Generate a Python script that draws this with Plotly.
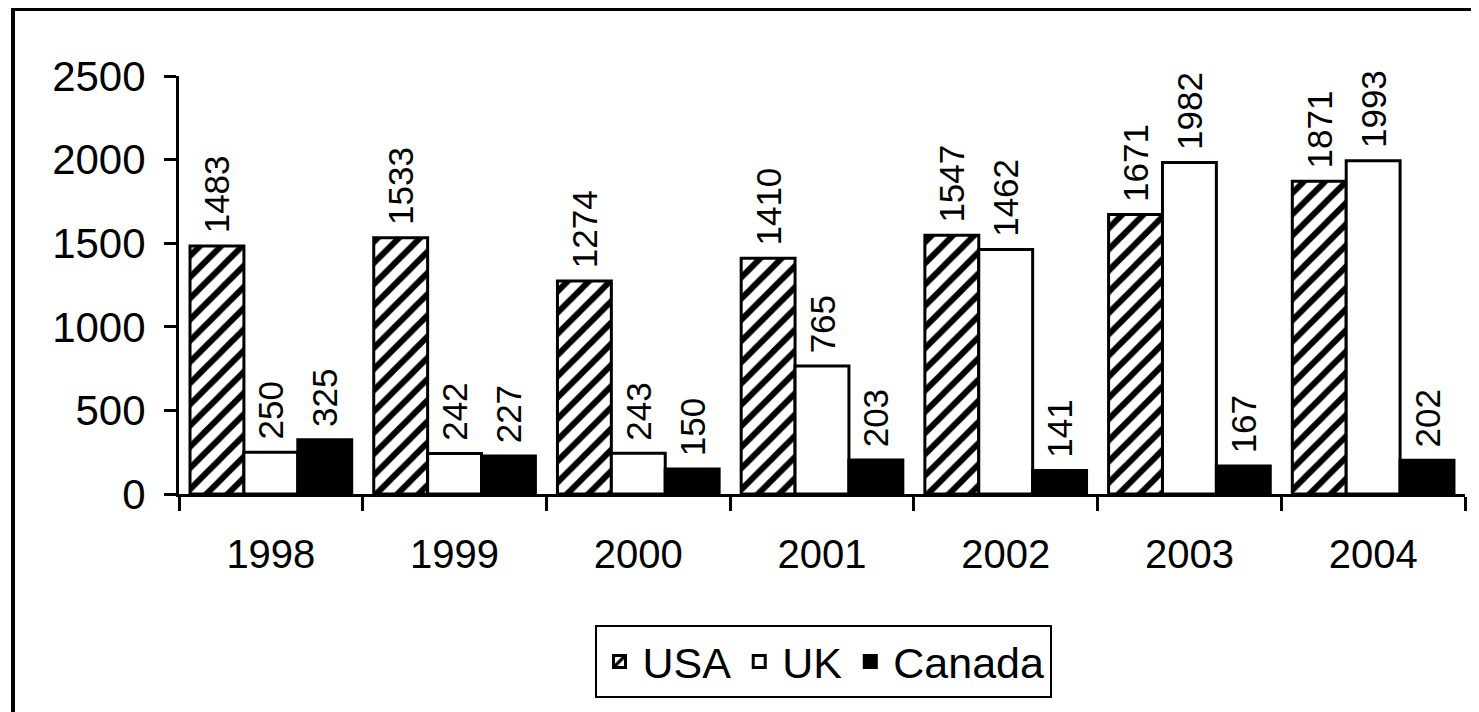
import plotly.graph_objects as go

years = ["1998", "1999", "2000", "2001", "2002", "2003", "2004"]
usa = [1483, 1533, 1274, 1410, 1547, 1671, 1871]
uk = [250, 242, 243, 765, 1462, 1982, 1993]
canada = [325, 227, 150, 203, 141, 167, 202]
y_ticks = [0, 500, 1000, 1500, 2000, 2500]

W, H = 1479, 712
OFF = 8  # page body margin offset
L, T = 179 - OFF, 76 - OFF
R = W - (1465 - OFF)
B = H - (494 - OFF)
pw, ph = W - L - R, H - T - B

FONT = "Liberation Sans"

def px_x(px):
    return (px - OFF - L) / pw

def px_y(py):
    return (H - B - (py - OFF)) / ph

fig = go.Figure()
common = dict(
    textposition="outside", textangle=-90, texttemplate="\u00a0%{y}",
    textfont=dict(family=FONT, size=35, color="black"),
    constraintext="none", cliponaxis=False,
)
fig.add_trace(go.Bar(
    name="USA", x=years, y=usa,
    marker=dict(color="white", line=dict(color="black", width=3),
                pattern=dict(shape="/", fgcolor="black", bgcolor="white",
                             size=15, solidity=0.4, fillmode="replace")),
    **common))
fig.add_trace(go.Bar(
    name="UK", x=years, y=uk,
    marker=dict(color="white", line=dict(color="black", width=3)),
    **common))
fig.add_trace(go.Bar(
    name="Canada", x=years, y=canada,
    marker=dict(color="black", line=dict(color="black", width=3)),
    **common))

fig.update_layout(
    width=W, height=H,
    margin=dict(l=L, r=R, t=T, b=B, pad=0),
    paper_bgcolor="white", plot_bgcolor="white",
    barmode="group", bargap=0.12, bargroupgap=0,
    font=dict(family=FONT, size=40, color="black"),
    showlegend=True,
    legend=dict(
        orientation="h", x=px_x(823), xanchor="center", y=px_y(625), yanchor="top",
        bordercolor="black", borderwidth=2, bgcolor="white",
        font=dict(family=FONT, size=43, color="black"),
        itemwidth=36, tracegroupgap=0,
    ),
    xaxis=dict(
        type="category", showline=True, linecolor="black", linewidth=3,
        ticks="outside", tickson="boundaries", ticklen=14, tickwidth=3,
        tickcolor="black", showgrid=False, ticklabelstandoff=23,
        tickfont=dict(family=FONT, size=40, color="black"),
    ),
    yaxis=dict(
        range=[0, 2500], tickvals=y_ticks, showline=True, linecolor="black",
        linewidth=3, ticks="outside", ticklen=12, tickwidth=3,
        tickcolor="black", showgrid=False, zeroline=False,
        ticklabelstandoff=10,
        tickfont=dict(family=FONT, size=42, color="black"),
    ),
    shapes=[
        dict(type="line", xref="paper", yref="paper",
             x0=px_x(13), x1=px_x(13), y0=px_y(8), y1=px_y(730),
             line=dict(color="black", width=4)),
        dict(type="line", xref="paper", yref="paper",
             x0=px_x(11), x1=px_x(1500), y0=px_y(9), y1=px_y(9),
             line=dict(color="black", width=4)),
    ],
)

fig.write_html("out.html")
